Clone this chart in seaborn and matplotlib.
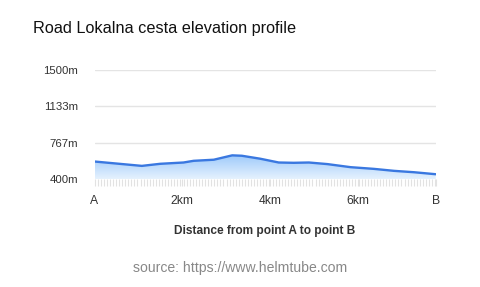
import numpy as np
import pandas as pd
import matplotlib
matplotlib.use("Agg")
import matplotlib.pyplot as plt
import seaborn as sns
from matplotlib.ticker import MultipleLocator
from matplotlib.colors import LinearSegmentedColormap

dist_km = [0.0, 1.08, 1.5, 2.03, 2.26, 2.72, 3.14, 3.36, 3.78, 4.2, 4.54, 4.89, 5.31, 5.84, 6.37, 6.83, 7.29, 7.78]
elev_m = [579, 535, 556, 569, 586, 597, 641, 637, 607, 569, 566, 569, 553, 522, 505, 485, 471, 451]
ytick_vals = [400, 767, 1133, 1500]
ytick_labels = ["400m", "767m", "1133m", "1500m"]
xtick_vals = [0, 2, 4, 6, 7.78]
xtick_labels = ["A", "2km", "4km", "6km", "B"]

df = pd.DataFrame({"dist": dist_km, "elev": elev_m})

sns.set_style("white")
plt.rcParams['font.family'] = ['Liberation Sans', 'DejaVu Sans']

fig = plt.figure(figsize=(4.8, 2.87), dpi=100)
ax = fig.add_axes([94.5/480, 1-179.3/287, (435.7-94.5)/480, (179.3-70)/287])

ymin, ymax = 400, 1500
xmin, xmax = df.dist.min(), df.dist.max()

# gradient fill
fill = ax.fill_between(df.dist, df.elev, ymin, color="none", lw=0)
cmap = LinearSegmentedColormap.from_list("g", ["#e6f2fe", "#9ecafb"])
grad = np.linspace(0, 1, 256).reshape(-1, 1)
top = max(elev_m)
im = ax.imshow(grad, extent=[xmin, xmax, ymin, top], origin="lower", aspect="auto",
               cmap=cmap, zorder=1)
im.set_clip_path(fill.get_paths()[0], transform=ax.transData)

sns.lineplot(data=df, x="dist", y="elev", ax=ax, color="#3a78e0", lw=1.7, zorder=3)

ax.set_xlim(xmin, xmax)
ax.set_ylim(ymin, ymax)
ax.set_yticks(ytick_vals)
ax.set_yticklabels(ytick_labels)
ax.set_xticks(xtick_vals)
ax.set_xticklabels(xtick_labels)
ax.xaxis.set_minor_locator(MultipleLocator(0.07))

for v in ytick_vals:
    ax.axhline(v, color="#e4e4e4", lw=1, zorder=0)

for s in ax.spines.values():
    s.set_visible(False)

ax.tick_params(axis="y", left=False, length=0, pad=12, labelsize=8.2, labelcolor="#333333")
ax.tick_params(axis="x", which="major", bottom=True, length=5, width=0.8, color="#e2e2e2", pad=6, labelsize=8.7, labelcolor="#333333")
ax.tick_params(axis="x", which="minor", bottom=True, length=5, color="#e2e2e2", width=0.8)
ax.grid(False)

ax.set_xlabel("Distance from point A to point B", fontsize=8.6, fontweight="bold", color="#333333", labelpad=13)
ax.set_ylabel("")

fig.text(33/480, 1-28/287, "Road Lokalna cesta elevation profile", fontsize=11.7, color="#111111", va="center", ha="left")
fig.text(240/480, 1-268/287, "source: https://www.helmtube.com", fontsize=10.1, color="#888888", va="center", ha="center")

fig.savefig("out.png", dpi=100)
